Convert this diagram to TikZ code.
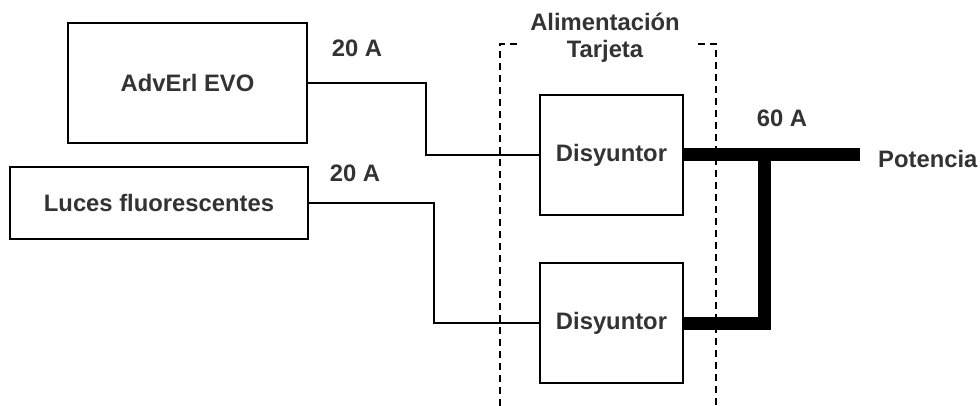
\documentclass[tikz,border=0pt]{standalone}
\usepackage{fontspec}
\setmainfont{Liberation Sans}
\definecolor{txt}{HTML}{333333}
\begin{document}
\begin{tikzpicture}[x=1pt,y=-1pt,
  lbl/.style={font=\fontsize{23.8}{27}\selectfont\bfseries, text=txt, inner sep=0pt},
  unit/.style={draw=black, line width=2.2pt, inner sep=0pt, lbl},
  wire/.style={line width=2.2pt, line join=miter},
  bus/.style={line width=13pt, line join=miter},
  zone/.style={line width=2pt, dash pattern=on 7pt off 5pt}]
\useasboundingbox (0,0) rectangle (980,406);
\node[unit, minimum width=239pt, minimum height=120pt] (adv) at (187.5,83) {AdvErl EVO};
\node[unit, minimum width=298pt, minimum height=72pt] (luc) at (159,203) {Luces fluorescentes};
\node[unit, minimum width=143pt, minimum height=120pt] (d1) at (611.5,155) {Disyuntor};
\node[unit, minimum width=143pt, minimum height=120pt] (d2) at (611.5,323) {Disyuntor};
\node[lbl, anchor=west] (pot) at (878,159) {Potencia};
\node[lbl] (a1) at (357,48) {20 A};
\node[lbl] (a2) at (355,173) {20 A};
\node[lbl] (a3) at (782,118) {60 A};
\node[lbl, align=center] (title) at (605,38) {Alimentación\\Tarjeta};
\coordinate (busend) at (860,155);
\coordinate (jn) at (764,155);
\draw[wire] (adv.east) -- ++(118,0) |- (d1.west);
\draw[wire] (luc.east) -- ++(125,0) |- (d2.west);
\draw[bus] (d1.east) -- (busend);
\draw[bus] (d2.east) -| (jn);
\draw[zone] (517,44) -- (500,44) -- (500,406);
\draw[zone] (698,44) -- (716,44) -- (716,406);
\end{tikzpicture}
\end{document}
